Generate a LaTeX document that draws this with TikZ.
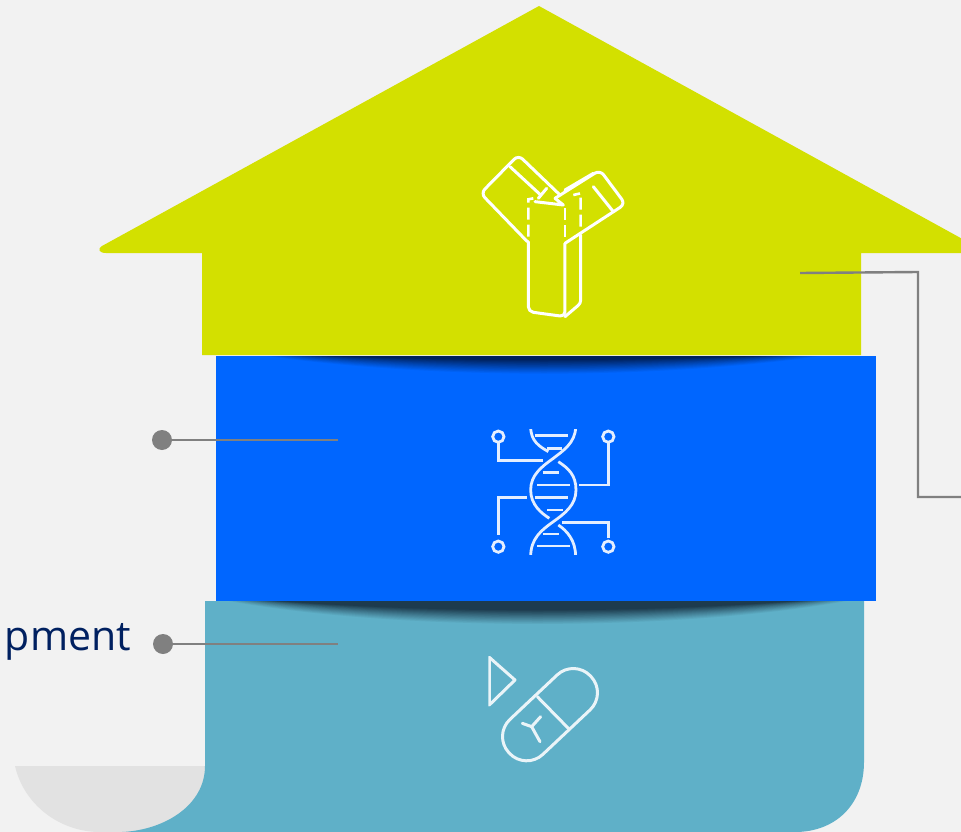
\documentclass[tikz,border=0pt]{standalone}
\usepackage{fontspec}
\setmainfont{Open Sans}
\definecolor{bgc}{HTML}{F2F2F2}
\definecolor{limec}{HTML}{D3E000}
\definecolor{bluec}{HTML}{0066FF}
\definecolor{tealc}{HTML}{5FB0C8}
\definecolor{greyc}{HTML}{E2E2E2}
\definecolor{linec}{HTML}{808080}
\definecolor{navyc}{HTML}{002060}
\definecolor{shadeb}{HTML}{00205A}
\definecolor{shadet}{HTML}{1C3A4C}
\definecolor{iconb}{HTML}{E4EEFF}
\definecolor{icont}{HTML}{EAF4F8}
\tikzset{
  band/.style={draw=none},
  leader/.style={draw=linec,line width=2.4pt},
  ldot/.style={circle,fill=linec,draw=none,minimum size=20pt,inner sep=0pt},
  ycon/.style={draw=white,line width=3pt,line join=round,line cap=round},
  dnaic/.style={draw=iconb,line width=2.8pt},
  pillic/.style={draw=icont,line width=3pt,line join=round,line cap=round},
  ydash/.style={draw=white,line width=2.6pt,dash pattern=on 12pt off 5pt},
}
\begin{document}
\begin{tikzpicture}[x=1pt,y=-1pt]
\useasboundingbox (0,0) rectangle (961,832);
\clip (0,0) rectangle (961,832);
\fill[bgc] (0,0) rectangle (961,832);
% grey foot
\fill[greyc] (15,766) .. controls (24,805) and (60,832) .. (100,832) -- (205,832) -- (205,766) -- cycle;
% teal band
\fill[tealc,band] (205,601) -- (864,601) -- (864,762) .. controls (864,805) and (835,832) .. (795,832) -- (122,832)
  .. controls (165,830) and (205,805) .. (205,766) -- cycle;
% blue band
\fill[bluec,band] (216,356) rectangle (876,601);
% lime house
\fill[limec,band] (539,6) -- (977,247) -- (977,253) -- (861,253) -- (861,355) -- (202,355) -- (202,253) -- (106,253)
  .. controls (99,253) and (97,249) .. (102,246) -- cycle;
% lens shadows
\begin{scope}
\clip (216,356) rectangle (876,601);
\foreach \i in {0,...,13}{
  \pgfmathsetmacro{\mix}{\i*7.6}
  \pgfmathsetmacro{\dp}{1.0*(25-\i*1.5)}
  \pgfmathsetmacro{\xl}{262+\i*5}
  \pgfmathsetmacro{\xr}{826-\i*5}
  \fill[shadeb!\mix!bluec] (\xl,356) .. controls (\xl+170,356+\dp) and (\xr-170,356+\dp) .. (\xr,356) -- cycle;
}
\end{scope}
\begin{scope}
\clip (205,601) rectangle (864,700);
\foreach \i in {0,...,13}{
  \pgfmathsetmacro{\mix}{\i*7.6}
  \pgfmathsetmacro{\dp}{1.0*(32-\i*1.5)}
  \pgfmathsetmacro{\xl}{225+\i*4}
  \pgfmathsetmacro{\xr}{850-\i*4}
  \fill[shadet!\mix!tealc] (\xl,601) .. controls (\xl+170,601+\dp) and (\xr-170,601+\dp) .. (\xr,601) -- cycle;
}
\end{scope}
% label
\node[anchor=base east,inner sep=0pt,text=navyc,font=\fontsize{41}{48}\selectfont] (lbl) at (131,650) {pment};
% connectors
\node[ldot] (d1) at (162,440) {};
\coordinate (e1) at (338,440);
\draw[leader] (d1) -- (e1);
\node[ldot] (d2) at (163,644) {};
\coordinate (e2) at (338,644);
\draw[leader] (d2) -- (e2);
\coordinate (r1) at (800,273);
\coordinate (r2) at (918,272);
\coordinate (r3) at (918,497);
\coordinate (r4) at (961,497);
\draw[leader] (r1) -- (r2) -- (r3) -- (r4);
% antibody icon
\begin{scope}[shift={(450,130)},x=0.3333pt,y=-0.3333pt]
\draw[ycon,rounded corners=6pt] (232,335) -- (92,190) -- (205,75) -- (330,195);
\draw[ycon] (180,110) -- (272,195);
\draw[ycon] (290,175) -- (265,205);
\draw[ycon,rounded corners=6pt] (345,340) -- (526,222) -- (450,120) -- (315,205);
\draw[ycon] (345,180) -- (430,130);
\draw[ycon] (430,170) -- (490,245);
\draw[ycon,rounded corners=5pt] (235,335) -- (235,545) -- (345,560) -- (345,340);
\draw[ycon,rounded corners=3pt] (345,560) -- (392,520) -- (392,315);
\draw[ycon] (255,215) -- (340,225) -- (315,205);
\draw[ydash] (235,320) -- (235,208) -- (250,205);
\draw[ydash] (345,320) -- (345,228);
\draw[ydash] (392,290) -- (392,190) -- (370,195);
\end{scope}
% dna icon
\begin{scope}[shift={(460,410)},x=0.3333pt,y=-0.3333pt]
\draw[dnaic] (115,80) circle[radius=17];
\draw[dnaic] (445,80) circle[radius=17];
\draw[dnaic] (115,410) circle[radius=17];
\draw[dnaic] (445,410) circle[radius=17];
\draw[dnaic] (115,100) -- (115,152) -- (250,152);
\draw[dnaic] (445,100) -- (445,225) -- (358,225);
\draw[dnaic] (115,375) -- (115,263) -- (200,263);
\draw[dnaic] (445,385) -- (445,338) -- (305,338);
\begin{scope}
\clip (90,57) rectangle (470,435);
\draw[dnaic] (347,50) .. controls (347,100) and (305,125) .. (280,145) .. controls (245,170) and (212,195) .. (212,240) .. controls (212,285) and (245,310) .. (268,325);
\draw[dnaic] (295,345) .. controls (320,362) and (347,390) .. (347,440);
\draw[dnaic] (212,50) .. controls (212,95) and (240,110) .. (265,125);
\draw[dnaic] (295,155) .. controls (325,175) and (348,195) .. (348,240) .. controls (348,285) and (315,310) .. (280,335) .. controls (245,360) and (212,385) .. (212,440);
\end{scope}
\foreach \xa/\xb/\yy in {225/325/77,262/305/115,248/298/187,232/330/225,225/325/263,262/310/300,248/298/372,232/330/408}{
  \draw[dnaic] (\xa,\yy) -- (\xb,\yy);
}
\end{scope}
% pill icon
\begin{scope}[shift={(460,640)},x=0.3333pt,y=-0.3333pt]
\begin{scope}
\clip (85,48) rectangle (418,368);
\draw[pillic] (88,52) -- (165,120) -- (88,195) -- cycle;
\draw[pillic,rounded corners=23.5pt] [shift={(270,224)},rotate=43.3] (-168,-72) rectangle (168,72);
\draw[pillic] (232,170) -- (325,265);
\draw[pillic] (215,260) -- (240,305);
\draw[pillic] (215,260) -- (187,250);
\draw[pillic] (215,260) -- (242,230);
\end{scope}
\end{scope}
\end{tikzpicture}
\end{document}
